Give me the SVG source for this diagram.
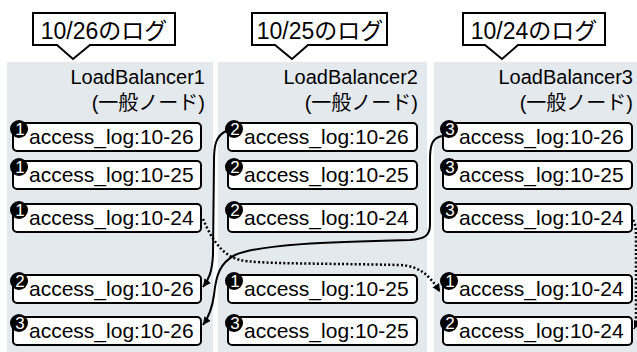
<svg xmlns="http://www.w3.org/2000/svg" width="637" height="352" viewBox="0 0 637 352">
<style>
text{font-family:"Liberation Sans","Noto Sans CJK JP",sans-serif;fill:#000}
.panel{fill:#e3e9ed}
.callout{fill:#fff;stroke:#000;stroke-width:2}
.ct{font-size:23px;text-anchor:middle}
.title{font-size:20px;text-anchor:end}
.box{fill:#fff;stroke:#000;stroke-width:2}
.lt{font-size:21px}
.num{fill:#000}
.nt{font-size:17px;fill:#fff;text-anchor:middle}
.solid{fill:none;stroke:#000;stroke-width:2}
.dot{fill:none;stroke:#000;stroke-width:2.5;stroke-dasharray:2 2.2}
</style>
<defs>
<marker id="arr" markerUnits="userSpaceOnUse" markerWidth="9" markerHeight="9" refX="8" refY="4" orient="auto">
<path d="M0,0 L8,4 L0,8 Z" fill="#000"/>
</marker>
</defs>

<g id="panel1"><rect class="panel" x="7" y="62" width="206" height="290"/>
<text class="title" x="205" y="84">LoadBalancer1</text>
<text class="title" x="205" y="110">(一般ノード)</text></g>
<g id="panel2"><rect class="panel" x="218" y="62" width="209" height="290"/>
<text class="title" x="418" y="84">LoadBalancer2</text>
<text class="title" x="418" y="110">(一般ノード)</text></g>
<g id="panel3"><rect class="panel" x="434" y="62" width="203" height="290"/>
<text class="title" x="633" y="84">LoadBalancer3</text>
<text class="title" x="633" y="110">(一般ノード)</text></g>

<g id="callout1"><path class="callout" d="M33,13 H175 V45 H90 L73,59 L57,45 H33 Z"/><text class="ct" x="104" y="39">10/26のログ</text></g>
<g id="callout2"><path class="callout" d="M252,13 H387 V45 H308 L292,59 L275,45 H252 Z"/><text class="ct" x="320" y="39">10/25のログ</text></g>
<g id="callout3"><path class="callout" d="M463,13 H605 V45 H518 L502,59 L485,45 H463 Z"/><text class="ct" x="534" y="39">10/24のログ</text></g>

<g id="c1r1"><rect class="box" x="13" y="123" width="188" height="28" rx="4"/><text class="lt" x="29" y="144">access_log:10-26</text><circle class="num" cx="19" cy="129" r="9"/><text class="nt" x="20" y="135">1</text></g>
<g id="c1r2"><rect class="box" x="13" y="161" width="188" height="28" rx="4"/><text class="lt" x="29" y="182">access_log:10-25</text><circle class="num" cx="19" cy="167" r="9"/><text class="nt" x="20" y="173">1</text></g>
<g id="c1r3"><rect class="box" x="13" y="204" width="188" height="28" rx="4"/><text class="lt" x="29" y="225">access_log:10-24</text><circle class="num" cx="19" cy="210" r="9"/><text class="nt" x="20" y="216">1</text></g>
<g id="c1r4"><rect class="box" x="13" y="275" width="188" height="28" rx="4"/><text class="lt" x="29" y="296">access_log:10-26</text><circle class="num" cx="19" cy="281" r="9"/><text class="nt" x="20" y="287">2</text></g>
<g id="c1r5"><rect class="box" x="13" y="317" width="188" height="28" rx="4"/><text class="lt" x="29" y="338">access_log:10-26</text><circle class="num" cx="19" cy="323" r="9"/><text class="nt" x="20" y="329">3</text></g>

<g id="c2r1"><rect class="box" x="228" y="123" width="189" height="28" rx="4"/><text class="lt" x="244" y="144">access_log:10-26</text><circle class="num" cx="234" cy="129" r="9"/><text class="nt" x="235" y="135">2</text></g>
<g id="c2r2"><rect class="box" x="228" y="161" width="189" height="28" rx="4"/><text class="lt" x="244" y="182">access_log:10-25</text><circle class="num" cx="234" cy="167" r="9"/><text class="nt" x="235" y="173">2</text></g>
<g id="c2r3"><rect class="box" x="228" y="204" width="189" height="28" rx="4"/><text class="lt" x="244" y="225">access_log:10-24</text><circle class="num" cx="234" cy="210" r="9"/><text class="nt" x="235" y="216">2</text></g>
<g id="c2r4"><rect class="box" x="228" y="275" width="189" height="28" rx="4"/><text class="lt" x="244" y="296">access_log:10-25</text><circle class="num" cx="234" cy="281" r="9"/><text class="nt" x="235" y="287">1</text></g>
<g id="c2r5"><rect class="box" x="228" y="317" width="189" height="28" rx="4"/><text class="lt" x="244" y="338">access_log:10-25</text><circle class="num" cx="234" cy="323" r="9"/><text class="nt" x="235" y="329">3</text></g>

<g id="c3r1"><rect class="box" x="443" y="123" width="189" height="28" rx="4"/><text class="lt" x="459" y="144">access_log:10-26</text><circle class="num" cx="449" cy="129" r="9"/><text class="nt" x="450" y="135">3</text></g>
<g id="c3r2"><rect class="box" x="443" y="161" width="189" height="28" rx="4"/><text class="lt" x="459" y="182">access_log:10-25</text><circle class="num" cx="449" cy="167" r="9"/><text class="nt" x="450" y="173">3</text></g>
<g id="c3r3"><rect class="box" x="443" y="204" width="189" height="28" rx="4"/><text class="lt" x="459" y="225">access_log:10-24</text><circle class="num" cx="449" cy="210" r="9"/><text class="nt" x="450" y="216">3</text></g>
<g id="c3r4"><rect class="box" x="443" y="275" width="189" height="28" rx="4"/><text class="lt" x="459" y="296">access_log:10-24</text><circle class="num" cx="449" cy="281" r="9"/><text class="nt" x="450" y="287">1</text></g>
<g id="c3r5"><rect class="box" x="443" y="317" width="189" height="28" rx="4"/><text class="lt" x="459" y="338">access_log:10-24</text><circle class="num" cx="449" cy="323" r="9"/><text class="nt" x="450" y="329">2</text></g>

<g id="connectors">
<path class="solid" marker-end="url(#arr)" d="M226,131 C216,136 214,145 214,160 L213,255 C212,272 209,279 203,287"/>
<path class="solid" marker-end="url(#arr)" d="M442,136 C432,138 430,145 430,160 L430,225 C430,236 424,239 410,240 C330,242 260,244 235,255 C220,263 216,275 214,295 C212,310 208,318 203,325"/>
<path class="dot" marker-end="url(#arr)" d="M203,219 C210,235 220,255 240,260 C260,264 300,263 400,265 C420,266 430,276 440,292"/>
<path class="dot" marker-end="url(#arr)" d="M633,220 C636,225 636,230 636,240 L636,315 C636,321 636,325 634,329"/>
</g>
</svg>
